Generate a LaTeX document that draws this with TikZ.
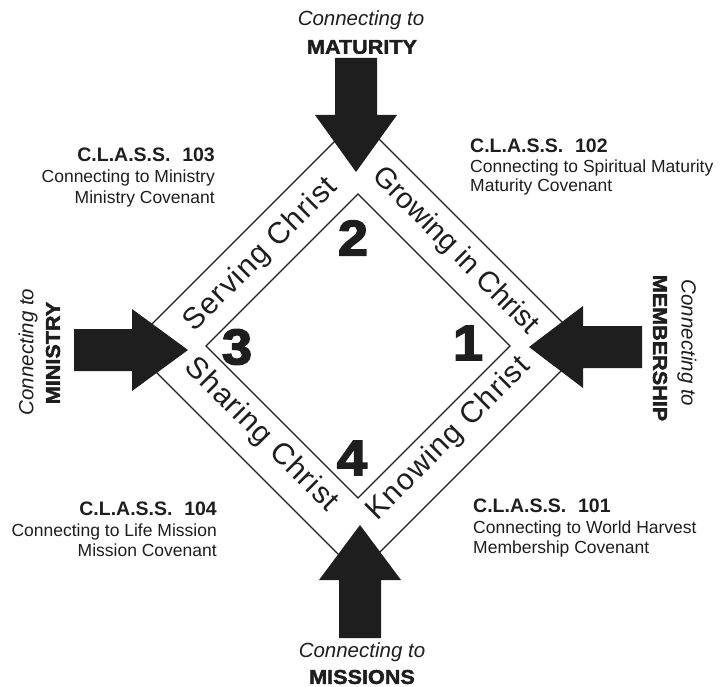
\documentclass[tikz,border=0pt]{standalone}
\usepackage{fontspec}
\setmainfont{Liberation Sans}
\newfontfamily\blackfont[FakeBold=2]{Liberation Sans Bold}
\newfontfamily\digitfont[FakeBold=3]{Liberation Sans Bold}
\definecolor{ink}{HTML}{1E1E1E}
\begin{document}
\begin{tikzpicture}[x=1pt,y=-1pt,
  edge/.style={draw=ink, line width=1.3pt, line join=miter},
  bigarrow/.style={fill=ink, draw=none},
  band/.style={text=ink, inner sep=0pt},
  num/.style={text=ink, font=\fontsize{50}{50}\digitfont, inner sep=0pt},
  conn/.style={text=ink, font=\fontsize{20.5}{22}\selectfont\itshape, inner sep=0pt},
  heavy/.style={text=ink, font=\fontsize{20}{22}\blackfont, inner sep=0pt},
  cls/.style={text=ink, font=\fontsize{19.5}{20}\selectfont\bfseries, inner sep=0pt},
  sub/.style={text=ink, font=\fontsize{17.5}{20}\selectfont, inner sep=0pt},
]
\useasboundingbox (0,0) rectangle (720,687);
\fill[white] (0,0) rectangle (720,687);
% diamonds
\draw[edge] (358,118) -- (586,346) -- (358,574) -- (130,346) -- cycle;
\draw[edge] (358,194) -- (510,346) -- (358,498) -- (206,346) -- cycle;
% big arrows
\fill[bigarrow] (335,58) -- (377,58) -- (377,115) -- (397,115) -- (356,172) -- (315,115) -- (335,115) -- cycle;
\fill[bigarrow] (642,326) -- (642,368) -- (583,368) -- (583,388) -- (529,347) -- (583,306) -- (583,326) -- cycle;
\fill[bigarrow] (74,329) -- (74,371) -- (132,371) -- (132,391) -- (188,350) -- (132,309) -- (132,329) -- cycle;
\fill[bigarrow] (339,638) -- (381,638) -- (381,580) -- (401,580) -- (360,525) -- (319,580) -- (339,580) -- cycle;
% outer labels
\node[conn] (ttop) at (361,20) {Connecting to};
\node[heavy] (mat) at (362,47) {\scalebox{1.08}[1]{MATURITY}};
\node[conn] (tbot) at (362,652) {Connecting to};
\node[heavy] (mis) at (362,677) {\scalebox{1.08}[1]{MISSIONS}};
\node[conn, rotate=-90] (tright) at (687,343) {Connecting to};
\node[heavy, rotate=-90] (mem) at (660,348) {\scalebox{1.08}[1]{MEMBERSHIP}};
\node[conn, rotate=90] (tleft) at (28,352) {Connecting to};
\node[heavy, rotate=90] (min) at (53,353) {\scalebox{1.08}[1]{MINISTRY}};
% band labels
\node[band, rotate=45, font=\fontsize{30}{32}\selectfont\addfontfeatures{LetterSpace=4.5}] (serv) at (261,255) {Serving Christ};
\node[band, rotate=-45, font=\fontsize{29}{32}\selectfont] (grow) at (455,251) {Growing in Christ};
\node[band, rotate=45, font=\fontsize{30}{32}\selectfont\addfontfeatures{LetterSpace=4.3}] (know) at (449,439) {Knowing Christ};
\node[band, rotate=-45, font=\fontsize{30}{32}\selectfont\addfontfeatures{LetterSpace=3.8}] (shar) at (261,435) {Sharing Christ};
% numbers
\node[num] (n2) at (353,238) {\scalebox{1.08}[1]{2}};
\node[num] (n1) at (468,343) {\scalebox{1.08}[1]{1}};
\node[num] (n3) at (237,347) {\scalebox{1.08}[1]{3}};
\node[num] (n4) at (352,458) {\scalebox{1.08}[1]{4}};
% class blocks
\node[cls, anchor=base east] (c103a) at (215,162) {C.L.A.S.S.\hspace{0.6em}103};
\node[sub, anchor=base east] (c103b) at (215,183) {Connecting to Ministry};
\node[sub, anchor=base east] (c103c) at (215,204) {Ministry Covenant};
\node[cls, anchor=base west] (c102a) at (470,153) {C.L.A.S.S.\hspace{0.6em}102};
\node[sub, anchor=base west] (c102b) at (470,173) {Connecting to Spiritual Maturity};
\node[sub, anchor=base west] (c102c) at (470,192) {Maturity Covenant};
\node[cls, anchor=base east] (c104a) at (217,515) {C.L.A.S.S.\hspace{0.6em}104};
\node[sub, anchor=base east] (c104b) at (217,536) {Connecting to Life Mission};
\node[sub, anchor=base east] (c104c) at (217,556) {Mission Covenant};
\node[cls, anchor=base west] (c101a) at (473,512) {C.L.A.S.S.\hspace{0.6em}101};
\node[sub, anchor=base west] (c101b) at (473,533) {Connecting to World Harvest};
\node[sub, anchor=base west] (c101c) at (473,553) {Membership Covenant};
\end{tikzpicture}
\end{document}
